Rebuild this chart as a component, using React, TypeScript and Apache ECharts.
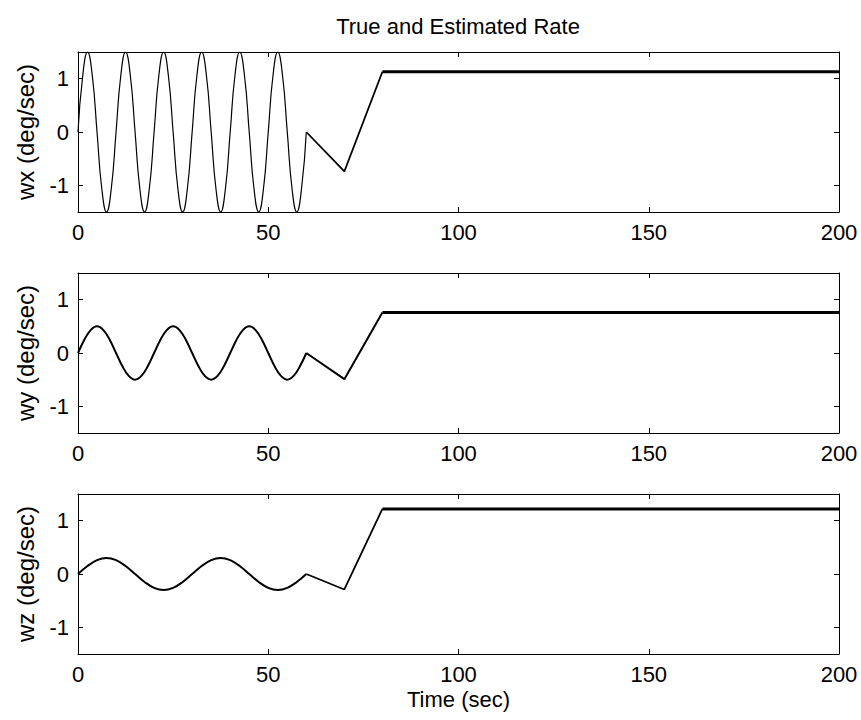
import React, { useEffect, useRef } from "react";
import * as echarts from "echarts";

const chartTitle = "True and Estimated Rate";
const xTitle = "Time (sec)";
const yTitles = ["wx (deg/sec)", "wy (deg/sec)", "wz (deg/sec)"];
const yTicks = [-1, 0, 1];

// wx: oscillation part (sampled at 1/8 period), then ramps, then steady
const wxWaveT = [0, 1.25, 2.5, 3.75, 5, 6.25, 7.5, 8.75, 10, 11.25, 12.5, 13.75, 15, 16.25, 17.5, 18.75, 20, 21.25, 22.5, 23.75, 25, 26.25, 27.5, 28.75, 30, 31.25, 32.5, 33.75, 35, 36.25, 37.5, 38.75, 40, 41.25, 42.5, 43.75, 45, 46.25, 47.5, 48.75, 50, 51.25, 52.5, 53.75, 55, 56.25, 57.5, 58.75, 60];
const wxWaveV = [0, 1.06, 1.5, 1.06, 0, -1.06, -1.5, -1.06, 0, 1.06, 1.5, 1.06, 0, -1.06, -1.5, -1.06, 0, 1.06, 1.5, 1.06, 0, -1.06, -1.5, -1.06, 0, 1.06, 1.5, 1.06, 0, -1.06, -1.5, -1.06, 0, 1.06, 1.5, 1.06, 0, -1.06, -1.5, -1.06, 0, 1.06, 1.5, 1.06, 0, -1.06, -1.5, -1.06, 0];
const wxRampT = [60, 70, 80];
const wxRampV = [0, -0.74, 1.13];
const wxSteadyT = [80, 120, 160, 200];
const wxSteadyV = [1.13, 1.13, 1.13, 1.13];

// wy
const wyWaveT = [0, 1.67, 3.33, 5, 6.67, 8.33, 10, 11.67, 13.33, 15, 16.67, 18.33, 20, 21.67, 23.33, 25, 26.67, 28.33, 30, 31.67, 33.33, 35, 36.67, 38.33, 40, 41.67, 43.33, 45, 46.67, 48.33, 50, 51.67, 53.33, 55, 56.67, 58.33, 60];
const wyWaveV = [0, 0.25, 0.43, 0.5, 0.43, 0.25, 0, -0.25, -0.43, -0.5, -0.43, -0.25, 0, 0.25, 0.43, 0.5, 0.43, 0.25, 0, -0.25, -0.43, -0.5, -0.43, -0.25, 0, 0.25, 0.43, 0.5, 0.43, 0.25, 0, -0.25, -0.43, -0.5, -0.43, -0.25, 0];
const wyRampT = [60, 70, 80];
const wyRampV = [0, -0.49, 0.76];
const wySteadyT = [80, 120, 160, 200];
const wySteadyV = [0.76, 0.76, 0.76, 0.76];

// wz
const wzWaveT = [0, 2.5, 5, 7.5, 10, 12.5, 15, 17.5, 20, 22.5, 25, 27.5, 30, 32.5, 35, 37.5, 40, 42.5, 45, 47.5, 50, 52.5, 55, 57.5, 60];
const wzWaveV = [0, 0.15, 0.26, 0.3, 0.26, 0.15, 0, -0.15, -0.26, -0.3, -0.26, -0.15, 0, 0.15, 0.26, 0.3, 0.26, 0.15, 0, -0.15, -0.26, -0.3, -0.26, -0.15, 0];
const wzRampT = [60, 70, 80];
const wzRampV = [0, -0.29, 1.22];
const wzSteadyT = [80, 120, 160, 200];
const wzSteadyV = [1.22, 1.22, 1.22, 1.22];

const zip = (t: number[], v: number[]) => t.map((x, i) => [x, v[i]]);

const FONT = "'Liberation Sans', Arial, Helvetica, sans-serif";

export default function App() {
  const ref = useRef<HTMLDivElement>(null);
  useEffect(() => {
    if (!ref.current) return;
    const chart = echarts.init(ref.current, undefined, { renderer: "svg" });
    const tops = [52, 273, 494];
    const h = 160;
    const grids = tops.map((t) => ({ left: 78, width: 761, top: t, height: h, show: false }));

    const xAxes: any[] = [];
    const yAxes: any[] = [];
    tops.forEach((_, i) => {
      const common = {
        gridIndex: i,
        type: "value",
        min: 0,
        max: 200,
        interval: 50,
        axisLine: { show: true, onZero: false, lineStyle: { color: "#000", width: 1 } },
        axisTick: { show: true, inside: true, length: 5, lineStyle: { color: "#000", width: 1 } },
        splitLine: { show: false },
      };
      xAxes.push({
        ...common,
        position: "bottom",
        axisLabel: { show: true, fontSize: 22, color: "#000", margin: 9, fontFamily: FONT },
        name: i === 2 ? xTitle : "",
        nameLocation: "middle",
        nameGap: 34,
        nameTextStyle: { fontSize: 22, color: "#000", fontFamily: FONT },
      });
      xAxes.push({ ...common, position: "top", axisLabel: { show: false } });
      const ycommon = {
        gridIndex: i,
        type: "value",
        min: -1.5,
        max: 1.5,
        axisLine: { show: true, onZero: false, lineStyle: { color: "#000", width: 1 } },
        axisTick: { show: true, inside: true, length: 5, customValues: yTicks, lineStyle: { color: "#000", width: 1 } },
        splitLine: { show: false },
      };
      yAxes.push({
        ...ycommon,
        position: "left",
        axisLabel: { show: true, customValues: yTicks, fontSize: 22, color: "#000", margin: 9, fontFamily: FONT },
        name: yTitles[i],
        nameLocation: "middle",
        nameGap: 41,
        nameRotate: 90,
        nameTextStyle: { fontSize: 24, color: "#000", fontFamily: FONT },
      });
      yAxes.push({ ...ycommon, position: "right", axisLabel: { show: false } });
    });

    const mk = (i: number, data: number[][], width: number, smooth: boolean | number) => ({
      type: "line",
      xAxisIndex: i * 2,
      yAxisIndex: i * 2,
      data,
      showSymbol: false,
      symbol: "none",
      smooth,
      lineStyle: { color: "#000", width },
      clip: true,
    });

    const series = [
      mk(0, zip(wxWaveT, wxWaveV), 1.2, 0.5),
      mk(0, zip(wxRampT, wxRampV), 1.8, false),
      mk(0, zip(wxSteadyT, wxSteadyV), 3, false),
      mk(1, zip(wyWaveT, wyWaveV), 2, 0.4),
      mk(1, zip(wyRampT, wyRampV), 2, false),
      mk(1, zip(wySteadyT, wySteadyV), 3, false),
      mk(2, zip(wzWaveT, wzWaveV), 2, 0.4),
      mk(2, zip(wzRampT, wzRampV), 1.8, false),
      mk(2, zip(wzSteadyT, wzSteadyV), 3, false),
    ];

    chart.setOption({
      animation: false,
      backgroundColor: "#fff",
      grid: grids,
      xAxis: xAxes,
      yAxis: yAxes,
      series,
      graphic: [
        {
          type: "text",
          x: 458,
          y: 26,
          style: {
            text: chartTitle,
            fontSize: 22,
            fontFamily: FONT,
            fill: "#000",
            align: "center",
            verticalAlign: "middle",
          },
        },
      ],
    });
    return () => chart.dispose();
  }, []);
  return <div ref={ref} style={{ position: "fixed", left: 0, top: 0, width: 861, height: 720, background: "#fff" }} />;
}
